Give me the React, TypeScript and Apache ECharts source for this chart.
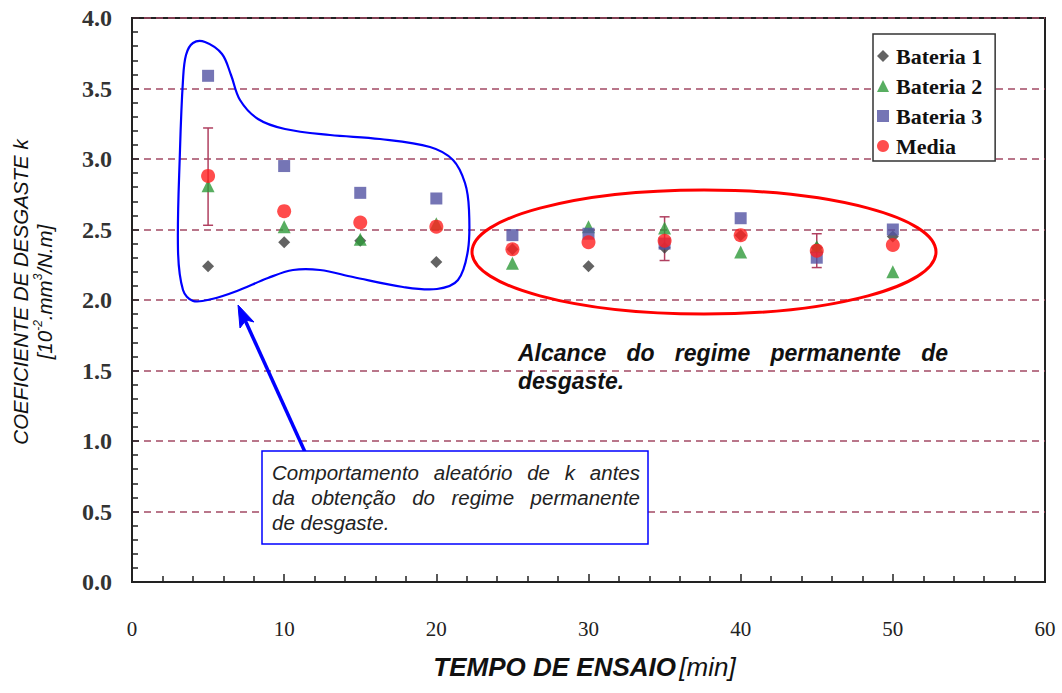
import React, { useEffect, useRef } from 'react';
import * as echarts from 'echarts';

// ---- data ----
const times = [5, 10, 15, 20, 25, 30, 35, 40, 45, 50];
const bateria1 = [2.24, 2.41, 2.42, 2.27, 2.36, 2.24, 2.37, 2.46, 2.37, 2.45];
const bateria2 = [2.81, 2.52, 2.43, 2.54, 2.26, 2.52, 2.51, 2.34, 2.38, 2.2];
const bateria3 = [3.59, 2.95, 2.76, 2.72, 2.46, 2.47, 2.4, 2.58, 2.3, 2.5];
const media = [2.88, 2.63, 2.55, 2.52, 2.36, 2.41, 2.42, 2.46, 2.35, 2.39];
const errLow: (number | null)[] = [2.53, null, null, null, null, null, 2.28, null, 2.23, null];
const errHigh: (number | null)[] = [3.22, null, null, null, null, null, 2.59, null, 2.47, null];

const seriesNames = ['Bateria 1', 'Bateria 2', 'Bateria 3', 'Media'];
const xTitle = 'TEMPO DE ENSAIO';
const xUnit = '[min]';
const yTitle1 = 'COEFICIENTE DE DESGASTE k';
const boxLines = [
  'Comportamento aleatório de k antes',
  'da obtenção do regime permanente',
  'de desgaste.',
];
const regimeLines = ['Alcance do regime permanente de', 'desgaste.'];

const SERIF = '"Liberation Serif", "Times New Roman", serif';
const SANS = '"Liberation Sans", Arial, sans-serif';

function justified(
  line: string,
  x0: number,
  x1: number,
  y: number,
  size: number,
  weight: string,
  color: string,
  justify: boolean
) {
  const words = line.split(' ');
  const canvas = document.createElement('canvas');
  const ctx = canvas.getContext('2d')!;
  ctx.font = `italic ${weight} ${size}px ${SANS}`;
  const widths = words.map((w) => ctx.measureText(w).width);
  const spaceW = ctx.measureText(' ').width;
  const total = widths.reduce((a, b) => a + b, 0);
  const gap = justify && words.length > 1 ? (x1 - x0 - total) / (words.length - 1) : spaceW;
  let x = x0;
  return words.map((w, i) => {
    const el = {
      type: 'text',
      x,
      y,
      z: 20,
      style: {
        text: w,
        fontSize: size,
        fontFamily: SANS,
        fontStyle: 'italic',
        fontWeight: weight,
        fill: color,
        align: 'left',
        verticalAlign: 'middle',
      },
    };
    x += widths[i] + gap;
    return el;
  });
}

export default function App() {
  const ref = useRef<HTMLDivElement>(null);
  useEffect(() => {
    if (!ref.current) return;
    const chart = echarts.init(ref.current, undefined, { renderer: 'svg' });

    const errData = times
      .map((t, i) => (errLow[i] == null ? null : [t, errLow[i], errHigh[i]]))
      .filter((d) => d !== null);

    const blueShape = [
      [193, 43], [205, 42], [222, 54], [231, 75], [240, 100], [258, 119], [285, 129],
      [330, 135], [380, 139], [430, 147], [453, 160], [465, 183], [469, 210], [468, 250],
      [458, 280], [437, 289], [403, 287], [353, 277], [320, 270], [293, 270], [268, 278],
      [237, 291], [212, 299], [193, 301], [183, 290], [178, 250], [180, 150], [183, 80],
      [186, 55],
    ];

    const graphics: any[] = [
      {
        type: 'polygon',
        z: 15,
        shape: { points: blueShape, smooth: 0.35 },
        style: { fill: 'none', stroke: '#0000ff', lineWidth: 2.2 },
      },
      {
        type: 'ellipse',
        z: 15,
        shape: { cx: 704, cy: 252, rx: 232, ry: 62 },
        style: { fill: 'none', stroke: '#ff0000', lineWidth: 3 },
      },
      {
        type: 'line',
        z: 15,
        shape: { x1: 305, y1: 452, x2: 245, y2: 320 },
        style: { stroke: '#0000ff', lineWidth: 3.5 },
      },
      {
        type: 'polygon',
        z: 15,
        shape: { points: [[238, 305], [254, 322], [246, 320], [240, 328]] },
        style: { fill: '#0000ff', stroke: '#0000ff', lineWidth: 1 },
      },
      {
        type: 'rect',
        z: 16,
        shape: { x: 262, y: 451, width: 386, height: 93 },
        style: { fill: '#ffffff', stroke: '#0000ff', lineWidth: 1.5 },
      },
      // y axis title
      {
        type: 'text',
        x: 20,
        y: 292,
        rotation: Math.PI / 2,
        style: {
          text: yTitle1,
          fontSize: 20.5,
          fontFamily: SANS,
          fontStyle: 'italic',
          fill: '#111',
          align: 'center',
          verticalAlign: 'middle',
        },
      },
      {
        type: 'text',
        x: 43,
        y: 292,
        rotation: Math.PI / 2,
        style: {
          text: '{n|[10}{s|-2}{n|.mm}{s|3}{n|/N.m]}',
          fontSize: 20.5,
          fontFamily: SANS,
          fontStyle: 'italic',
          fill: '#111',
          align: 'center',
          verticalAlign: 'middle',
          rich: {
            n: { fontSize: 20.5, fontFamily: SANS, fontStyle: 'italic', fill: '#111', lineHeight: 23, verticalAlign: 'bottom' },
            s: { fontSize: 12, fontFamily: SANS, fontStyle: 'italic', fill: '#111', lineHeight: 23, verticalAlign: 'top' },
          },
        },
      },
    ];

    boxLines.forEach((l, i) => {
      graphics.push(...justified(l, 272, 640, 472 + i * 25, 20.5, 'normal', '#222', i < boxLines.length - 1));
    });
    regimeLines.forEach((l, i) => {
      graphics.push(...justified(l, 518, 948, 353 + i * 28, 23, 'bold', '#111', i < regimeLines.length - 1));
    });

    const pts = (arr: number[]) => times.map((t, i) => [t, arr[i]]);

    chart.setOption({
      animation: false,
      backgroundColor: '#ffffff',
      grid: {
        left: 132,
        top: 18,
        width: 913,
        height: 564,
        show: true,
        borderColor: '#222',
        borderWidth: 2,
        backgroundColor: 'transparent',
        outerBoundsMode: 'none',
        containLabel: false,
      },
      legend: {
        orient: 'vertical',
        left: 873,
        top: 34,
        data: seriesNames,
        backgroundColor: '#ffffff',
        borderColor: '#333',
        borderWidth: 1.5,
        padding: [11, 13, 4, 4],
        itemWidth: 12,
        itemHeight: 12,
        itemGap: 8,
        z: 30,
        textStyle: {
          fontFamily: SERIF,
          fontWeight: 'bold',
          fontSize: 22,
          color: '#111',
          lineHeight: 20,
          padding: [0, 0, 0, 2],
        },
      },
      xAxis: {
        type: 'value',
        min: 0,
        max: 60,
        interval: 10,
        name: `{b|${xTitle}} {n|${xUnit}}`,
        nameLocation: 'middle',
        nameGap: 72,
        nameTextStyle: {
          padding: [0, 8, 0, 0],
          rich: {
            b: { fontFamily: SANS, fontSize: 26, fontWeight: 'bold', fontStyle: 'italic', color: '#111' },
            n: { fontFamily: SANS, fontSize: 26, fontStyle: 'italic', color: '#111' },
          },
        },
        axisLine: { lineStyle: { color: '#222', width: 2 } },
        axisTick: { inside: true, length: 8, lineStyle: { color: '#222', width: 1.5 } },
        minorTick: { show: true, splitNumber: 5, length: 6, lineStyle: { color: '#222', width: 1.5 } },
        axisLabel: { margin: 36, fontFamily: SERIF, fontSize: 21, color: '#222' },
        splitLine: { show: false },
      },
      yAxis: {
        type: 'value',
        min: 0,
        max: 4,
        interval: 0.5,
        axisLine: { lineStyle: { color: '#222', width: 2 } },
        axisTick: { inside: true, length: 7, lineStyle: { color: '#222', width: 1.5 } },
        minorTick: { show: true, splitNumber: 5, length: 6, lineStyle: { color: '#222', width: 1.5 } },
        axisLabel: {
          margin: 20,
          fontFamily: SERIF,
          fontWeight: 'bold',
          fontSize: 24,
          color: '#333',
          formatter: (v: number) => v.toFixed(1),
        },
        splitLine: { show: true, lineStyle: { color: '#a24a64', width: 1.5, type: [7, 5] } },
      },
      graphic: graphics,
      series: [
        {
          type: 'custom',
          name: 'erro',
          data: errData,
          z: 3,
          renderItem: (params: any, api: any) => {
            const x = api.value(0);
            const lo = api.coord([x, api.value(1)]);
            const hi = api.coord([x, api.value(2)]);
            const w = 5;
            const st = { stroke: '#b04060', lineWidth: 1.5 };
            return {
              type: 'group',
              children: [
                { type: 'line', shape: { x1: lo[0], y1: lo[1], x2: hi[0], y2: hi[1] }, style: st },
                { type: 'line', shape: { x1: lo[0] - w, y1: lo[1], x2: lo[0] + w, y2: lo[1] }, style: st },
                { type: 'line', shape: { x1: hi[0] - w, y1: hi[1], x2: hi[0] + w, y2: hi[1] }, style: st },
              ],
            };
          },
        },
        {
          type: 'scatter',
          name: seriesNames[0],
          data: pts(bateria1),
          symbol: 'diamond',
          symbolSize: 12,
          z: 4,
          itemStyle: { color: '#3c3c3c' },
        },
        {
          type: 'scatter',
          name: seriesNames[1],
          data: pts(bateria2),
          symbol: 'triangle',
          symbolSize: 13,
          z: 5,
          itemStyle: { color: '#2e9a3a' },
        },
        {
          type: 'scatter',
          name: seriesNames[2],
          data: pts(bateria3),
          symbol: 'rect',
          symbolSize: 12,
          z: 6,
          itemStyle: { color: '#5252a2' },
        },
        {
          type: 'scatter',
          name: seriesNames[3],
          data: pts(media),
          symbol: 'circle',
          symbolSize: 14,
          z: 7,
          itemStyle: { color: '#ff1f1f' },
        },
      ],
    });
    return () => chart.dispose();
  }, []);
  return <div ref={ref} style={{ position: 'absolute', left: 0, top: 0, width: 1062, height: 693 }} />;
}
